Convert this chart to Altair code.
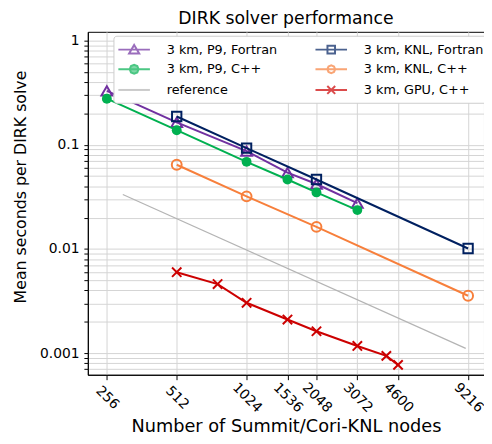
import altair as alt
import pandas as pd

# ---- data ----
P9_NODES = [256, 512, 1024, 1536, 2048, 3072]
P9_FORTRAN = [0.329, 0.164, 0.087, 0.054, 0.042, 0.0275]
P9_CPP = [0.277, 0.138, 0.0686, 0.0464, 0.0349, 0.0236]
KNL_NODES = [512, 1024, 2048, 9216]
KNL_FORTRAN = [0.187, 0.093, 0.0464, 0.0101]
KNL_CPP = [0.0643, 0.032, 0.0163, 0.00355]
REF_NODES = [300, 9000]
REF_VALUES = [0.0333, 0.00111]
GPU_NODES = [512, 768, 1024, 1536, 2048, 3072, 4096, 4600]
GPU_CPP = [0.00598, 0.0046, 0.00304, 0.0021, 0.00162, 0.00117, 0.00094, 0.00077]

X_TICKS = [256, 512, 1024, 1536, 2048, 3072, 4600, 9216]

S_P9F = "3 km, P9, Fortran"
S_P9C = "3 km, P9, C++"
S_REF = "reference"
S_KNLF = "3 km, KNL, Fortran"
S_KNLC = "3 km, KNL, C++"
S_GPU = "3 km, GPU, C++"

# legend order (column-wise fill of a 2-column legend)
SERIES = [S_P9F, S_P9C, S_REF, S_KNLF, S_KNLC, S_GPU]
COLORS = ["#7030a0", "#00b050", "#b4b4b4", "#002060", "#f77f3b", "#cc0000"]
FILLS = ["transparent", "#00b050", "transparent", "transparent", "transparent", "transparent"]
LEGEND_SHAPES = [
    "M-2,0H2M0,-0.6L0.64,0.48L-0.64,0.48Z",
    "M-2,0H2M0.56,0L0.4,0.4L0,0.56L-0.4,0.4L-0.56,0L-0.4,-0.4L0,-0.56L0.4,-0.4Z",
    "M-2,0H2",
    "M-2,0H2M-0.48,-0.48H0.48V0.48H-0.48Z",
    "M-2,0H2M0.5,0L0.35,0.35L0,0.5L-0.35,0.35L-0.5,0L-0.35,-0.35L0,-0.5L0.35,-0.35Z",
    "M-2,0H2M-0.5,-0.5L0.5,0.5M-0.5,0.5L0.5,-0.5",
]

rows = []
for name, xs, ys in [
    (S_P9F, P9_NODES, P9_FORTRAN),
    (S_P9C, P9_NODES, P9_CPP),
    (S_REF, REF_NODES, REF_VALUES),
    (S_KNLF, KNL_NODES, KNL_FORTRAN),
    (S_KNLC, KNL_NODES, KNL_CPP),
    (S_GPU, GPU_NODES, GPU_CPP),
]:
    for xv, yv in zip(xs, ys):
        rows.append({"series": name, "nodes": xv, "seconds": yv})
df = pd.DataFrame(rows)

Y_MIN, Y_MAX = 0.000619, 1.216
X_MIN, X_MAX = 212, 10790

y_grid = []
for e in range(-4, 1):
    for k in range(1, 10):
        v = round(k * 10 ** e, 10)
        if Y_MIN <= v <= Y_MAX:
            y_grid.append(v)

IS_MAJOR = "abs(log(datum.value)/LN10 - round(log(datum.value)/LN10)) < 1e-6"

xscale = alt.Scale(type="log", domain=[X_MIN, X_MAX], nice=False)
yscale = alt.Scale(type="log", domain=[Y_MIN, Y_MAX], nice=False)

x_enc = alt.X(
    "nodes:Q",
    scale=xscale,
    axis=alt.Axis(
        values=X_TICKS,
        title="Number of Summit/Cori-KNL nodes",
        labelAngle=45,
        labelAlign="center",
        labelBaseline="middle",
        labelPadding=18,
        labelOverlap=False,
        labelBound=False,
        tickSize=5,
        titleY=58,
        titleBaseline="alphabetic",
        titleFontSize=18,
        labelExpr="format(datum.value, 'd')",
    ),
)
y_enc = alt.Y(
    "seconds:Q",
    scale=yscale,
    axis=alt.Axis(
        values=y_grid,
        title="Mean seconds per DIRK solve",
        labelExpr=IS_MAJOR + " ? format(datum.value, '~g') : ''",
        labelOverlap=False,
        tickSize=4,
        labelPadding=5,
        titleX=-63,
        titleY=157,
        titleAlign="center",
        titleBaseline="alphabetic",
        titleFontSize=16,
    ),
)
x_plain = alt.X("nodes:Q", scale=xscale)
y_plain = alt.Y("seconds:Q", scale=yscale)

base = alt.Chart(df)

line_colors = dict(zip(SERIES, COLORS))
marker_styles = {
    S_P9F: dict(shape="triangle-up", filled=False, size=120),
    S_P9C: dict(shape="circle", filled=True, size=100),
    S_KNLF: dict(shape="square", filled=False, size=90),
    S_KNLC: dict(shape="circle", filled=False, size=100),
    S_GPU: dict(shape="M-1,-1L1,1M-1,1L1,-1", filled=False, size=90),
}

layers = []
first = True
for name in [S_P9F, S_P9C, S_REF, S_KNLF, S_KNLC, S_GPU]:
    sub = base.transform_filter(alt.datum.series == name)
    width = 1.2 if name == S_REF else 2
    layers.append(
        sub.mark_line(strokeWidth=width, color=line_colors[name]).encode(
            x=x_enc if first else x_plain, y=y_enc if first else y_plain
        )
    )
    first = False
    if name in marker_styles:
        st = marker_styles[name]
        layers.append(
            sub.mark_point(
                shape=st["shape"], filled=st["filled"], size=st["size"],
                color=line_colors[name], strokeWidth=2, opacity=1,
            ).encode(x=x_plain, y=y_plain)
        )

leg = alt.Legend(
    title=None, orient="none", legendX=26, legendY=4, columns=2,
    columnPadding=34, rowPadding=3, padding=5,
    labelFont="DejaVu Sans", labelFontSize=13, labelColor="black",
    labelOffset=24, symbolOffset=7,
    symbolSize=256, symbolStrokeWidth=2,
    strokeColor="#cccccc", fillColor="white", cornerRadius=3,
)
legend_layer = base.transform_filter(alt.datum.nodes < 0).mark_point(strokeWidth=2).encode(
    x=x_plain,
    y=y_plain,
    stroke=alt.Stroke("series:N", scale=alt.Scale(domain=SERIES, range=COLORS), legend=leg),
    fill=alt.Fill("series:N", scale=alt.Scale(domain=SERIES, range=FILLS), legend=leg),
    shape=alt.Shape("series:N", scale=alt.Scale(domain=SERIES, range=LEGEND_SHAPES), legend=leg),
)
layers.append(legend_layer)

chart = (
    alt.layer(*layers)
    .properties(
        width=402,
        height=348,
        title=alt.TitleParams(
            "DIRK solver performance", fontSize=17.5, fontWeight="normal",
            font="DejaVu Sans", offset=4, anchor="middle", frame="group",
        ),
        autosize=alt.AutoSizeParams(type="none"),
        padding={"left": 81, "top": 21, "right": 0, "bottom": 60},
    )
    .configure_view(stroke="black", strokeWidth=1)
    .configure_axis(
        labelFont="DejaVu Sans",
        titleFont="DejaVu Sans",
        labelFontSize=14,
        titleFontWeight="normal",
        labelColor="black",
        titleColor="black",
        domainColor="black",
        tickColor="black",
        gridColor="#d4d4d4",
        gridWidth=1,
        grid=True,
    )
)

chart.save("out.html", embed_options={"renderer": "svg", "actions": False})
